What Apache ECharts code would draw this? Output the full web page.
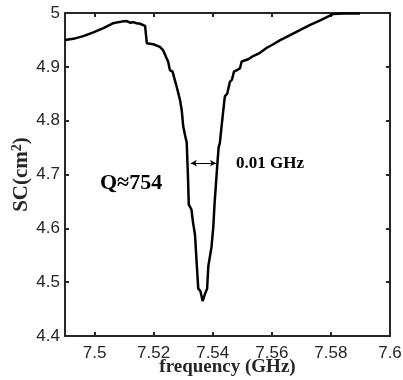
<!DOCTYPE html>
<html>
<head>
<meta charset="utf-8">
<script src="https://cdn.jsdelivr.net/npm/echarts@6/dist/echarts.min.js"></script>
<style>html,body{margin:0;padding:0;background:#fff}#c{width:403px;height:380px}</style>
</head>
<body>
<div id="c"></div>
<script>
var freq = [7.4900,7.4928,7.4962,7.4996,7.5030,7.5052,7.5063,7.5069,7.5080,7.5092,7.5097,7.5109,7.5120,7.5131,7.5142,7.5154,7.5171,7.5176,7.5177,7.5199,7.5221,7.5232,7.5244,7.5249,7.5255,7.5264,7.5278,7.5289,7.5295,7.5300,
  7.5306,7.5312,7.5316,7.5319,7.5328,7.5333,7.5340,7.5345,7.5351,7.5358,7.5366,7.5373,7.5381,7.5385,7.5390,7.5396,7.5402,7.5406,7.5416,7.5420,7.5424,7.5430,7.5433,7.5441,7.5449,7.5458,7.5465,7.5472,7.5482,7.5492,7.5498,7.5503,7.5520,7.5537,7.5560,7.5582,7.5605,7.5627,7.5695,7.5730,7.5762,7.5807,7.5841,7.5898];
var sc = [4.950,4.952,4.957,4.964,4.972,4.978,4.981,4.979,4.983,4.984,4.982,4.985,4.982,4.983,4.981,4.980,4.976,4.975,4.944,4.942,4.937,4.931,4.916,4.910,4.894,4.891,4.863,4.839,4.820,4.790,
  4.774,4.759,4.699,4.644,4.635,4.612,4.588,4.542,4.488,4.484,4.465,4.477,4.488,4.529,4.532,4.566,4.603,4.644,4.722,4.751,4.758,4.790,4.805,4.845,4.850,4.872,4.876,4.891,4.894,4.897,4.910,4.913,4.914,4.920,4.926,4.935,4.942,4.949,4.968,4.978,4.986,4.998,4.999,4.999];
var xTicks = [7.5,7.52,7.54,7.56,7.58,7.6];
var yTicks = [4.4,4.5,4.6,4.7,4.8,4.9,5];
var widthStart = [7.5326,4.721];
var widthEnd = [7.5411,4.721];

var axisColor = '#262626';
var chart = echarts.init(document.getElementById('c'), null, {renderer:'canvas'});
var baseX = {
  type:'value', min:7.49, max:7.6,
  axisLine:{show:true, onZero:false, lineStyle:{color:axisColor, width:2}},
  axisTick:{show:true, inside:true, length:4, customValues:xTicks, lineStyle:{color:axisColor, width:2}},
  splitLine:{show:false}
};
var baseY = {
  type:'value', min:4.4, max:5, interval:0.1,
  axisLine:{show:true, onZero:false, lineStyle:{color:axisColor, width:2}},
  axisTick:{show:true, inside:true, length:4, lineStyle:{color:axisColor, width:2}},
  splitLine:{show:false}
};
var option = {
  animation:false,
  grid:{left:65, right:13, top:13, bottom:44, containLabel:false, outerBoundsMode:'none'},
  xAxis:[
    Object.assign({}, baseX, {position:'bottom',
      axisLabel:{show:true, customValues:xTicks, color:axisColor, fontFamily:'Liberation Sans', fontSize:17, margin:9},
      name:'frequency (GHz)', nameLocation:'middle', nameGap:22, nameMoveOverlap:false,
      nameTextStyle:{fontFamily:'Liberation Serif', fontWeight:'bold', fontSize:19, color:axisColor}}),
    Object.assign({}, baseX, {position:'top', axisLabel:{show:false}})
  ],
  yAxis:[
    Object.assign({}, baseY, {position:'left',
      axisLabel:{show:true, color:axisColor, fontFamily:'Liberation Sans', fontSize:17, margin:5},
      name:'{a|SC(cm}{b|2}{a|)}', nameLocation:'middle', nameGap:31, nameMoveOverlap:false,
      nameTextStyle:{color:axisColor, rich:{
        a:{fontFamily:'Liberation Serif', fontWeight:'bold', fontSize:21, color:axisColor, lineHeight:24},
        b:{fontFamily:'Liberation Serif', fontWeight:'bold', fontSize:14, color:axisColor, verticalAlign:'top', lineHeight:24}
      }}}),
    Object.assign({}, baseY, {position:'right', axisLabel:{show:false}})
  ],
  series:[{
    type:'line', xAxisIndex:0, yAxisIndex:0,
    data: freq.map(function(f,i){return [f, sc[i]];}),
    showSymbol:false, symbol:'none',
    lineStyle:{color:'#000', width:2.5},
    markLine:{
      silent:true, symbol:['arrow','arrow'], symbolSize:[5,6],
      lineStyle:{color:'#000', width:1, type:'solid'},
      label:{show:false},
      data:[[{coord:widthStart},{coord:widthEnd}]]
    }
  }],
  graphic:[
    {type:'text', left:100, top:172, style:{text:'Q\u2248754', fontFamily:'Liberation Serif', fontWeight:'bold', fontSize:22, fill:'#000'}},
    {type:'text', left:236, top:155, style:{text:'0.01 GHz', fontFamily:'Liberation Serif', fontWeight:'bold', fontSize:17, fill:'#000'}}
  ]
};
chart.setOption(option);
</script>
</body>
</html>
